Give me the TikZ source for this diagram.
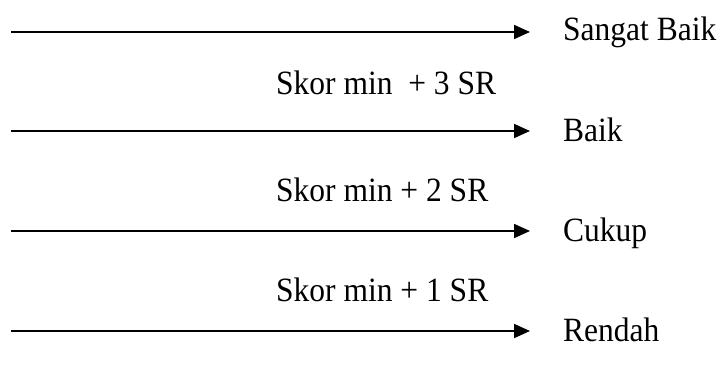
\documentclass[tikz,border=0pt]{standalone}
\usepackage{fontspec}
\usepackage{graphicx}
\setmainfont{Liberation Serif}
\usetikzlibrary{arrows.meta}
\newcommand{\tallt}[1]{\scalebox{1}[1.08]{#1}}
\begin{document}
\begin{tikzpicture}[x=1pt,y=1pt,
  lvl/.style={draw=none,inner sep=0pt,anchor=base west,font=\fontsize{31.5}{36}\selectfont},
  mid/.style={draw=none,inner sep=0pt,anchor=base west,font=\fontsize{31.5}{36}\selectfont},
  arr/.style={line width=1.8pt,-{Triangle[length=16pt,width=14pt]}}]
\useasboundingbox (0,0) rectangle (722,-369);
\coordinate (s1) at (11,-32);
\coordinate (e1) at (530,-32);
\coordinate (s2) at (11,-131);
\coordinate (e2) at (530,-131);
\coordinate (s3) at (11,-231);
\coordinate (e3) at (530,-231);
\coordinate (s4) at (11,-331);
\coordinate (e4) at (530,-331);
\node[lvl] (l1) at (563,-41) {\tallt{Sangat Baik}};
\node[lvl] (l2) at (563,-141) {\tallt{Baik}};
\node[lvl] (l3) at (563,-241) {\tallt{Cukup}};
\node[lvl] (l4) at (563,-341) {\tallt{Rendah}};
\node[mid] (m3) at (276,-94) {\tallt{Skor min \ + 3 SR}};
\node[mid] (m2) at (276,-201) {\tallt{Skor min + 2 SR}};
\node[mid] (m1) at (276,-301) {\tallt{Skor min + 1 SR}};
\draw[arr] (s1) -- (e1);
\draw[arr] (s2) -- (e2);
\draw[arr] (s3) -- (e3);
\draw[arr] (s4) -- (e4);
\end{tikzpicture}
\end{document}
